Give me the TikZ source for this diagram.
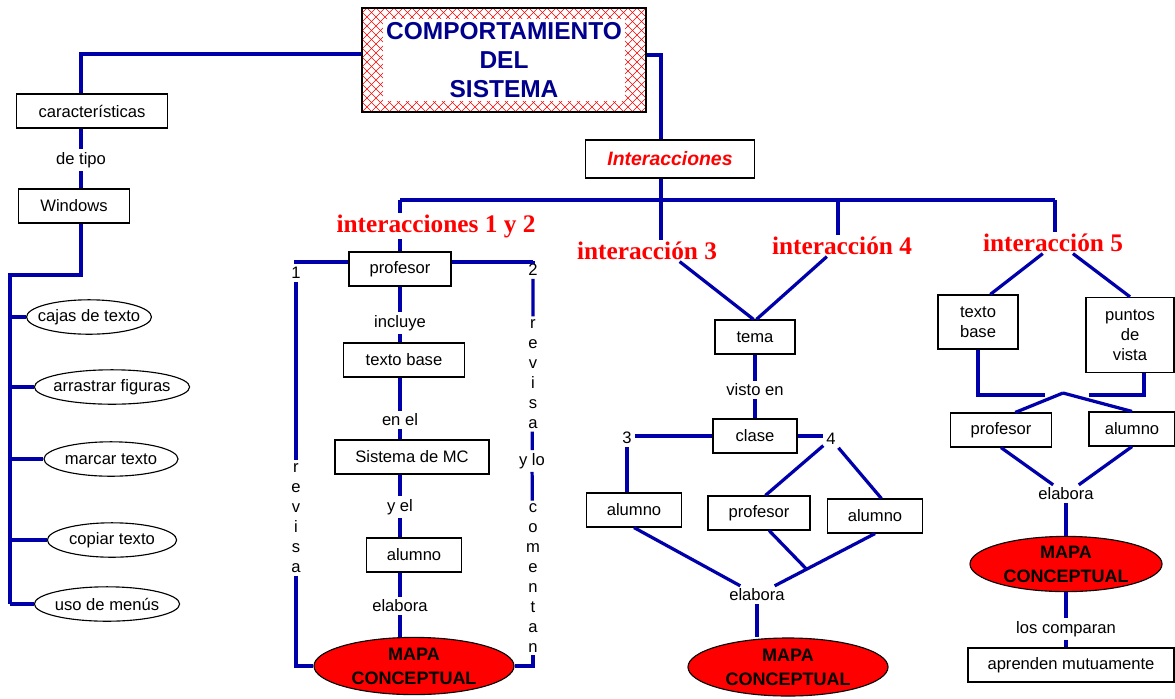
\documentclass[tikz,border=0pt]{standalone}
\usepackage{fontspec}
\setmainfont{Liberation Sans}
\newfontfamily\labelserif{Liberation Serif}
\usetikzlibrary{shapes.geometric,calc}
\definecolor{lineblue}{RGB}{0,0,170}
\definecolor{titleblue}{RGB}{0,0,140}
\definecolor{alertred}{RGB}{255,0,0}

\tikzset{
  link/.style={draw=lineblue,line width=2.3pt},
  box/.style={draw,line width=0.8pt,inner sep=0pt,minimum height=0.85cm,align=center,
    font=\fontsize{11.8}{14.2}\selectfont},
  oval/.style={draw,ellipse,line width=0.8pt,inner xsep=-5pt,inner ysep=0pt,minimum height=0.86cm,
    font=\fontsize{11.8}{14.2}\selectfont},
  lbl/.style={inner sep=2pt,align=center,font=\fontsize{11.8}{14.2}\selectfont},
  redlbl/.style={inner sep=1pt,text=alertred,font=\labelserif\bfseries\fontsize{18}{20}\selectfont},
  mapa/.style={draw,ellipse,fill=alertred,line width=0.8pt,inner sep=0pt,align=center,
    font=\bfseries\fontsize{12.8}{17}\selectfont},
  titlebox/.style={draw,line width=0.8pt,minimum width=7.1cm,minimum height=2.6cm,align=center,
    text=titleblue,font=\bfseries\fontsize{17.4}{20.5}\selectfont},
  hatch/.style={draw=alertred,line width=0.4pt},
}

\begin{document}
\begin{tikzpicture}[x=0.025cm,y=-0.025cm]
\useasboundingbox (0,0) rectangle (1175,698);

% title with hatched frame
\begin{scope}
  \clip (362,8) rectangle (646,112);
  \foreach \k in {250,259,...,760}{
    \draw[hatch] (\k,8) -- ++(104,104);
    \draw[hatch] (\k,8) -- ++(-104,104);
  }
\end{scope}
\fill[white] (383,19) rectangle (625,101);
\node[titlebox] (title) at (504,60) {COMPORTAMIENTO\\DEL\\SISTEMA};

% left branch
\node[box,minimum width=3.78cm] (car) at (92,111) {características};
\node[lbl] (detipo) at (81,160) {de tipo};
\node[box,minimum width=2.78cm] (win) at (74,206) {Windows};
\coordinate (railtop) at (10,275);
\draw[link] (title.west |- 0,54) -| (car.north -| detipo);
\draw[link] (car.south -| detipo) -- (detipo) -- (win.north -| detipo);
\foreach \t/\cx/\y/\w [count=\i] in {cajas de texto/89/317/3.08,arrastrar figuras/112/387/3.88,
    marcar texto/111/459/3.35,copiar texto/112/540/3.23,uso de menús/107/604/3.63}{
  \node[oval,minimum width=\w cm] (e\i) at (\cx,\y) {\t};
  \draw[link] (railtop |- e\i) -- (e\i.west);
}
\draw[link] (win.south -| detipo) |- (railtop) -- (railtop |- e5);

% interactions bar
\coordinate (hub) at (661,200);
\coordinate (bar1) at (400,200);
\coordinate (bar4) at (838,200);
\coordinate (bar5) at (1055,200);
\node[box,minimum width=4.23cm,minimum height=0.95cm,text=alertred,
  font=\bfseries\itshape\fontsize{13.8}{16}\selectfont] (inter) at (670,159) {Interacciones};
\draw[link] (title.east |- 0,55) -| (inter.north -| hub);
\draw[link] (bar1) -- (bar5);
\node[redlbl] (i12) at (436,226) {interacciones 1 y 2};
\node[redlbl] (i3) at (647,251) {interacción 3};
\node[redlbl] (i4) at (842,246) {interacción 4};
\node[redlbl] (i5) at (1053,243) {interacción 5};
\draw[link] (inter.south -| hub) -- (hub |- i3.north);
\draw[link] (bar1) -- (bar1 |- i12.north);
\draw[link] (bar4) -- (bar4 |- i4.north);
\draw[link] (bar5) -- (bar5 |- i5.north);

% interacciones 1 y 2
\node[box,minimum width=2.55cm] (prof1) at (400,269) {profesor};
\node[lbl] (incl) at (400,323) {incluye};
\node[box,minimum width=3.03cm] (tb1) at (404,360) {texto base};
\node[lbl] (enel) at (400,420) {en el};
\node[box,minimum width=3.85cm] (smc) at (412,457) {Sistema de MC};
\node[lbl] (yel) at (400,507) {y el};
\node[box,minimum width=2.38cm] (alu1) at (414,555) {alumno};
\node[lbl] (elab1) at (400,606) {elabora};
\node[mapa,minimum width=5cm,minimum height=1.43cm] (mapa1) at (414,666) {MAPA\\CONCEPTUAL};
\draw[link] (prof1.north |- i12.south) -- (prof1.north);
\draw[link] (prof1) -- (incl) -- (tb1.north -| incl);
\draw[link] (tb1.south -| enel) -- (enel) -- (smc.north -| enel);
\draw[link] (smc.south -| yel) -- (yel) -- (alu1.north -| yel);
\draw[link] (alu1.south -| elab1) -- (elab1) -- (elab1 |- mapa1.north);
\node[lbl] (n1) at (296,273) {1};
\node[lbl] (rev1) at (296,518) {r\\e\\v\\i\\s\\a};
\node[lbl] (n2) at (533,270) {2};
\node[lbl] (rev2) at (533,374) {r\\e\\v\\i\\s\\a};
\node[lbl] (ylo) at (532,461) {y lo};
\node[lbl] (com) at (533,578) {c\\o\\m\\e\\n\\t\\a\\n};
\draw[link] (prof1.west |- 0,262) -| (n1);
\draw[link] (n1) -- (rev1);
\draw[link] (rev1.south) |- (mapa1.west);
\draw[link] (prof1.east |- 0,262) -| (n2);
\draw[link] (n2) -- (rev2) -- (ylo) -- (com);
\draw[link] (com.south) |- (mapa1.east);

% interacciones 3 y 4
\node[box,minimum width=2cm] (tema) at (755,337) {tema};
\node[lbl] (visto) at (755,390) {visto en};
\node[box,minimum width=2.1cm] (clase) at (755,436) {clase};
\node[lbl] (n3) at (627,438) {3};
\node[lbl] (n4) at (831,439) {4};
\node[box,minimum width=2.38cm] (alu3) at (634,510) {alumno};
\node[box,minimum width=2.55cm] (prof2) at (759,513) {profesor};
\node[box,minimum width=2.38cm] (alu4) at (875,516) {alumno};
\node[lbl] (elab2) at (757,595) {elabora};
\node[mapa,minimum width=5cm,minimum height=1.45cm] (mapa2) at (788,667) {MAPA\\CONCEPTUAL};
\draw[link] (i3.-18) -- ([xshift=-1pt]tema.north);
\draw[link] (i4.-145) -- ([xshift=1pt]tema.north);
\draw[link] (tema) -- (visto) -- (clase);
\draw[link] (clase.west) -- (clase.west -| n3.north east);
\draw[link] (n3) -- (n3 |- alu3.north);
\draw[link] (clase.east) -- (clase.east -| n4.north west);
\draw[link] (n4) -- (prof2.70);
\draw[link] (n4) -- (alu4.70);
\coordinate (cross) at ($(alu4.south)!0.58!(elab2)$);
\draw[link] (alu3.south) -- (elab2);
\draw[link] (alu4.south) -- (elab2);
\draw[link] (prof2.-60) -- (cross);
\draw[link] (elab2) -- (elab2 |- mapa2.north);

% interaccion 5
\node[box,minimum width=2cm,minimum height=1.35cm] (tb3) at (978,322) {texto\\base};
\node[box,minimum width=2.2cm,minimum height=1.88cm] (pv) at (1130,335) {puntos\\de\\vista};
\coordinate (jl) at (1045,395);
\coordinate (jr) at (1089,395);
\coordinate (j5) at (1063,393);
\node[box,minimum width=2.53cm] (prof3) at (1001,430) {profesor};
\node[box,minimum width=2.15cm] (alu5) at (1132,429) {alumno};
\node[lbl] (elab3) at (1066,494) {elabora};
\node[mapa,minimum width=4.8cm,minimum height=1.38cm] (mapa3) at (1066,564) {MAPA\\CONCEPTUAL};
\node[lbl] (comp) at (1066,629) {los comparan};
\node[box,minimum width=5.15cm] (apr) at (1071,665) {aprenden mutuamente};
\draw[link] (i5.-134) -- (tb3.66);
\draw[link] (i5.-28) -- (pv.north);
\draw[link] (tb3.south) |- (jl);
\draw[link] (pv.-70) |- (jr);
\draw[link] (j5) -- (prof3.51);
\draw[link] (j5) -- (alu5.north);
\draw[link] (prof3.south) -- (elab3);
\draw[link] (alu5.south) -- (elab3);
\draw[link] (elab3) -- (mapa3);
\draw[link] (mapa3) -- (comp) -- (apr.north -| comp);
\end{tikzpicture}
\end{document}
